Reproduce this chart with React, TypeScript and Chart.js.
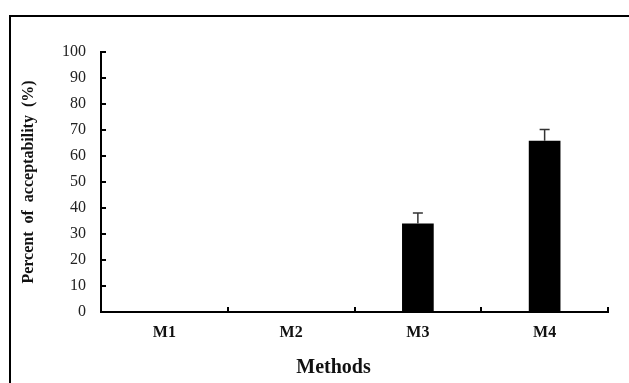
import React, { useEffect, useRef } from "react";
import { Chart, registerables } from "chart.js";

Chart.register(...registerables);

const categories = ["M1", "M2", "M3", "M4"];
const acceptability = [0, 0, 34, 65.9];
const errorUpper = [0, 0, 4.1, 4.3];
const yTicks = [0, 10, 20, 30, 40, 50, 60, 70, 80, 90, 100];
const xTitle = "Methods";
const yTitle = "Percent  of  acceptability  (%)";

const FONT = "'Liberation Serif', 'Times New Roman', serif";

const errorBarPlugin = {
  id: "errorBars",
  afterDatasetsDraw(chart: any) {
    const { ctx } = chart;
    const x = chart.scales.x;
    const y = chart.scales.y;
    ctx.save();
    ctx.strokeStyle = "#333";
    ctx.lineWidth = 1.5;
    acceptability.forEach((v, i) => {
      const e = errorUpper[i];
      if (!e) return;
      const px = x.getPixelForValue(i);
      const top = y.getPixelForValue(v + e);
      const base = y.getPixelForValue(v);
      ctx.beginPath();
      ctx.moveTo(px, base);
      ctx.lineTo(px, top);
      ctx.moveTo(px - 5, top);
      ctx.lineTo(px + 5, top);
      ctx.stroke();
    });
    ctx.restore();
  },
};

const innerTicksPlugin = {
  id: "innerTicks",
  afterDraw(chart: any) {
    const { ctx, chartArea } = chart;
    const x = chart.scales.x;
    const y = chart.scales.y;
    ctx.save();
    ctx.strokeStyle = "#000";
    ctx.lineWidth = 2;
    ctx.beginPath();
    yTicks.forEach((t) => {
      const py = Math.round(y.getPixelForValue(t));
      ctx.moveTo(chartArea.left, py);
      ctx.lineTo(chartArea.left + 5, py);
    });
    for (let i = 0; i <= categories.length; i++) {
      const px = Math.round(x.getPixelForValue(i - 0.5));
      ctx.moveTo(px, chartArea.bottom);
      ctx.lineTo(px, chartArea.bottom - 5);
    }
    ctx.stroke();
    // x axis title, centred slightly left of the plot centre as in the source figure
    ctx.fillStyle = "#111";
    ctx.font = `bold 20px ${FONT}`;
    ctx.textAlign = "center";
    ctx.textBaseline = "middle";
    ctx.fillText(xTitle, (chartArea.left + chartArea.right) / 2 - 21, chart.height - 15);
    ctx.restore();
  },
};

export default function App() {
  const ref = useRef<HTMLCanvasElement | null>(null);

  useEffect(() => {
    if (!ref.current) return;
    const chart = new Chart(ref.current, {
      type: "bar",
      data: {
        labels: categories,
        datasets: [
          {
            data: acceptability,
            backgroundColor: "#000",
            borderColor: "#000",
            borderWidth: 0,
            barPercentage: 0.25,
            categoryPercentage: 1,
          },
        ],
      },
      options: {
        animation: false,
        responsive: false,
        devicePixelRatio: 1,
        layout: { padding: { left: 0, top: 52, right: 21, bottom: 0 } },
        plugins: {
          legend: { display: false },
          tooltip: { enabled: false },
        },
        scales: {
          x: {
            afterFit(scale: any) {
              scale.height = 71;
            },
            grid: { display: true, drawOnChartArea: false, drawTicks: false },
            border: { display: true, color: "#000", width: 2 },
            ticks: {
              padding: 11,
              color: "#111",
              font: { family: FONT, size: 16, weight: "bold" },
            },
            title: { display: false },
          },
          y: {
            min: 0,
            max: 100,
            afterFit(scale: any) {
              scale.width = 101;
            },
            afterBuildTicks(scale: any) {
              scale.ticks = yTicks.map((v) => ({ value: v }));
            },
            grid: { display: true, drawOnChartArea: false, drawTicks: false },
            border: { display: true, color: "#000", width: 2 },
            ticks: {
              padding: 15,
              color: "#222",
              font: { family: FONT, size: 16 },
            },
            title: {
              display: true,
              text: yTitle,
              color: "#111",
              font: { family: FONT, size: 16, weight: "bold" },
              padding: { top: 19, bottom: 0 },
            },
          },
        },
      },
      plugins: [errorBarPlugin, innerTicksPlugin],
    });
    return () => chart.destroy();
  }, []);

  return (
    <div style={{ position: "fixed", left: 0, top: 0, width: 629, height: 383, background: "#fff" }}>
      <div
        style={{
          position: "absolute",
          left: 9,
          top: 15,
          right: 0,
          bottom: 0,
          borderLeft: "2px solid #000",
          borderTop: "2px solid #000",
        }}
      />
      <canvas ref={ref} width={629} height={383} style={{ position: "absolute", left: 0, top: 0 }} />
    </div>
  );
}
